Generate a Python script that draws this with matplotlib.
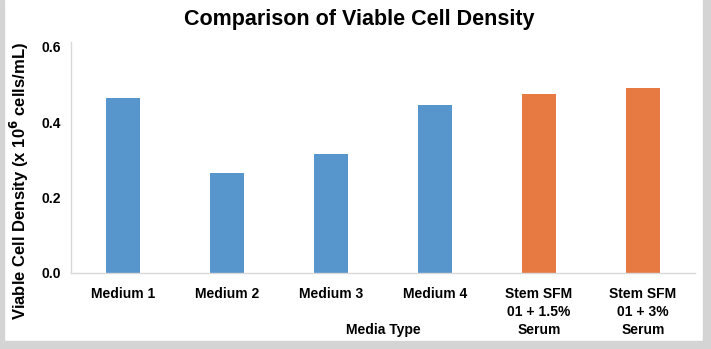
import matplotlib
matplotlib.use("Agg")
import matplotlib.pyplot as plt
from matplotlib.patches import Rectangle

# =========================
# DATA
# =========================
media = ["Medium 1", "Medium 2", "Medium 3", "Medium 4",
         "Stem SFM\n01 + 1.5%\nSerum", "Stem SFM\n01 + 3%\nSerum"]
density = [0.465, 0.265, 0.316, 0.446, 0.475, 0.491]
bar_colors = ["#5696CC", "#5696CC", "#5696CC", "#5696CC", "#E67A42", "#E67A42"]
yticks = [0.0, 0.2, 0.4, 0.6]

plt.rcParams["font.family"] = ["Liberation Sans", "DejaVu Sans"]

fig = plt.figure(figsize=(7.11, 3.49), dpi=100)
ax = fig.add_axes([0.0999, 0.2178, 0.8776, 0.662])

# grey frame strips around the picture
fig.patches.append(Rectangle((0.9885, 0), 0.02, 1, transform=fig.transFigure,
                             color="#d4d4d4", zorder=0))
fig.patches.append(Rectangle((0, 0), 1, 0.023, transform=fig.transFigure,
                             color="#d4d4d4", zorder=0))
fig.patches.append(Rectangle((0, 0), 0.006, 1, transform=fig.transFigure,
                             color="#d4d4d4", zorder=0))

x = range(len(media))
ax.bar(x, density, width=0.32, color=bar_colors, zorder=2)

ax.set_xlim(-0.5, len(media) - 0.5)
ax.set_ylim(0, 0.613)
ax.set_yticks(yticks)
ax.set_yticklabels([f"{v:.1f}" for v in yticks], fontsize=10, fontweight="bold")
ax.set_xticks(list(x))
ax.set_xticklabels(media, fontsize=10, fontweight="bold", linespacing=1.35)
ax.tick_params(axis="x", length=0, pad=10)
ax.tick_params(axis="y", length=0, pad=7)

for side in ["top", "right"]:
    ax.spines[side].set_visible(False)
for side in ["left", "bottom"]:
    ax.spines[side].set_color("#d9d9d9")
    ax.spines[side].set_linewidth(1.0)

ax.set_xlabel("Media Type", fontsize=10, fontweight="bold")
ax.xaxis.set_label_coords(0.5, -0.215)
ax.set_ylabel("Viable Cell Density (x 10$^\\mathbf{6}$ cells/mL)",
              fontsize=12, fontweight="bold")
ax.yaxis.set_label_coords(-0.064, 0.40)

fig.text(0.505, 0.945, "Comparison of Viable Cell Density", ha="center",
         va="center", fontsize=15.5, fontweight="bold")

fig.savefig("out.png", dpi=100)
